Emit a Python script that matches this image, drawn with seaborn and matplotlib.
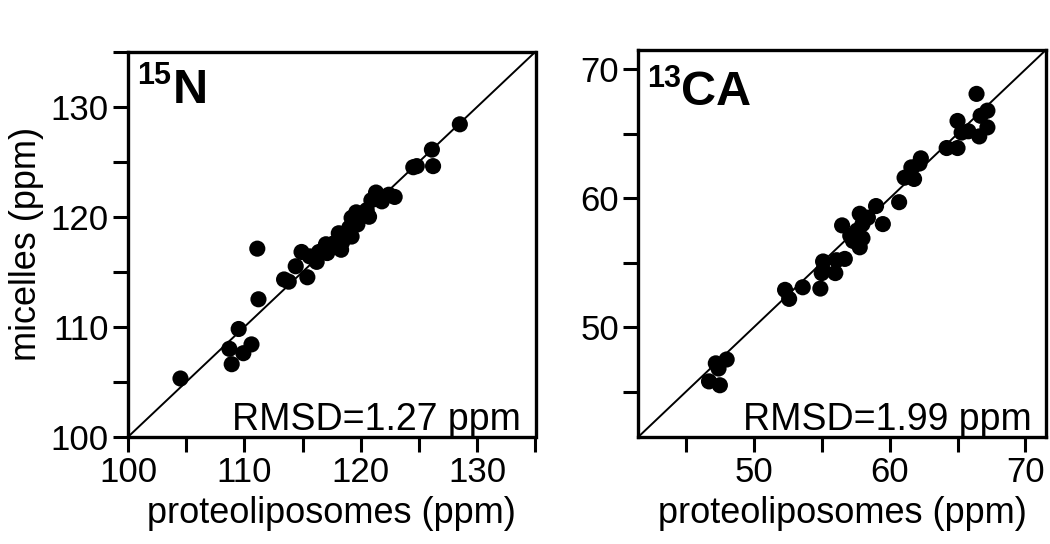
import numpy as np
import pandas as pd
import matplotlib
matplotlib.use("Agg")
import matplotlib.pyplot as plt
import seaborn as sns
from matplotlib.ticker import MultipleLocator, FuncFormatter

# ---- data ----
n15_lipo = [104.5, 108.7, 108.9, 109.5, 109.9, 110.6, 111.2, 111.1, 113.4, 113.8,
            114.4, 115.4, 114.9, 115.6, 116.2, 116.4, 117.0, 117.1, 117.7, 118.3,
            118.1, 118.4, 119.0, 119.2, 119.7, 119.2, 119.6, 120.0, 120.5, 120.7,
            120.9, 121.3, 121.8, 122.4, 122.9, 124.5, 124.8, 126.1, 126.2, 128.5]
n15_mic = [105.3, 108.0, 106.6, 109.8, 107.6, 108.4, 112.5, 117.1, 114.3, 114.1,
           115.5, 114.5, 116.8, 116.4, 115.9, 116.8, 117.5, 116.7, 117.6, 117.0,
           118.5, 117.7, 119.0, 118.2, 119.3, 119.9, 120.4, 120.0, 120.6, 120.0,
           121.5, 122.2, 121.4, 122.0, 121.8, 124.5, 124.6, 126.1, 124.6, 128.4]

ca_lipo = [66.4, 67.2, 66.7, 65.0, 67.2, 66.6, 65.8, 65.3, 65.0, 64.2,
           62.3, 62.2, 61.6, 61.8, 61.1, 60.7, 59.0, 59.5, 57.8, 58.4,
           58.0, 56.5, 57.6, 57.1, 58.0, 57.3, 57.8, 56.7, 56.1, 55.1,
           55.1, 56.0, 55.0, 54.9, 53.6, 52.3, 52.6, 48.0, 47.2, 47.4,
           46.7, 47.5]
ca_mic = [68.1, 66.8, 66.4, 66.0, 65.5, 64.8, 65.2, 65.1, 63.9, 63.9,
          63.1, 62.7, 62.4, 61.5, 61.6, 59.7, 59.4, 58.0, 58.8, 58.5,
          58.0, 57.9, 57.5, 57.1, 56.9, 56.7, 56.2, 55.3, 55.2, 55.1,
          54.4, 54.2, 54.2, 53.0, 53.1, 52.9, 52.2, 47.5, 47.2, 46.8,
          45.8, 45.5]

n15_rmsd = "RMSD=1.27 ppm"
ca_rmsd = "RMSD=1.99 ppm"
n15_lim = (100, 135)
ca_lim = (41.5, 71.5)
xlabel = "proteoliposomes (ppm)"
ylabel = "micelles (ppm)"

sns.set_style("ticks")
plt.rcParams["font.family"] = ["Liberation Sans", "DejaVu Sans"]
for k in ["text.color", "axes.labelcolor", "xtick.color", "ytick.color",
          "axes.edgecolor"]:
    plt.rcParams[k] = "black"

fig = plt.figure(figsize=(10.5, 5.44), dpi=100)
ax1 = fig.add_axes([0.122, 0.197, 0.388, 0.708])
ax2 = fig.add_axes([0.608, 0.197, 0.388, 0.711])

df1 = pd.DataFrame({"x": n15_lipo, "y": n15_mic})
df2 = pd.DataFrame({"x": ca_lipo, "y": ca_mic})

def fmt10(v, pos):
    return "%d" % round(v) if abs(v / 10 - round(v / 10)) < 1e-6 else ""

for ax, df, lim, rmsd in [(ax1, df1, n15_lim, n15_rmsd),
                          (ax2, df2, ca_lim, ca_rmsd)]:
    ax.plot(lim, lim, color="black", lw=1.4, zorder=1)
    sns.scatterplot(data=df, x="x", y="y", ax=ax, color="black", s=135,
                    edgecolor="none", zorder=2, legend=False)
    ax.set_xlim(lim)
    ax.set_ylim(lim)
    ax.xaxis.set_major_locator(MultipleLocator(5))
    ax.yaxis.set_major_locator(MultipleLocator(5))
    ax.xaxis.set_major_formatter(FuncFormatter(fmt10))
    ax.yaxis.set_major_formatter(FuncFormatter(fmt10))
    ax.tick_params(axis="both", direction="out", length=11, width=2.2,
                   labelsize=25, colors="black", pad=3)
    for sp in ax.spines.values():
        sp.set_linewidth(2.4)
        sp.set_color("black")
    ax.set_xlabel(xlabel, fontsize=26, labelpad=5)
    ax.set_ylabel("")
    ax.text(0.965, 0.018, rmsd, transform=ax.transAxes, ha="right", va="baseline",
            fontsize=27)

ax1.set_ylabel(ylabel, fontsize=26, labelpad=5)

# panel labels
ax1.annotate("15", xy=(0.022, 0.868), xycoords="axes fraction", fontsize=22,
             fontweight="bold", va="baseline", ha="left", xytext=(0, 13),
             textcoords="offset points")
ax1.annotate("N", xy=(0.11, 0.868), xycoords="axes fraction", fontsize=35,
             fontweight="bold", va="baseline", ha="left")
ax2.annotate("13", xy=(0.022, 0.858), xycoords="axes fraction", fontsize=22,
             fontweight="bold", va="baseline", ha="left", xytext=(0, 13),
             textcoords="offset points")
ax2.annotate("CA", xy=(0.105, 0.858), xycoords="axes fraction", fontsize=35,
             fontweight="bold", va="baseline", ha="left")

fig.savefig("out.png", dpi=100)
